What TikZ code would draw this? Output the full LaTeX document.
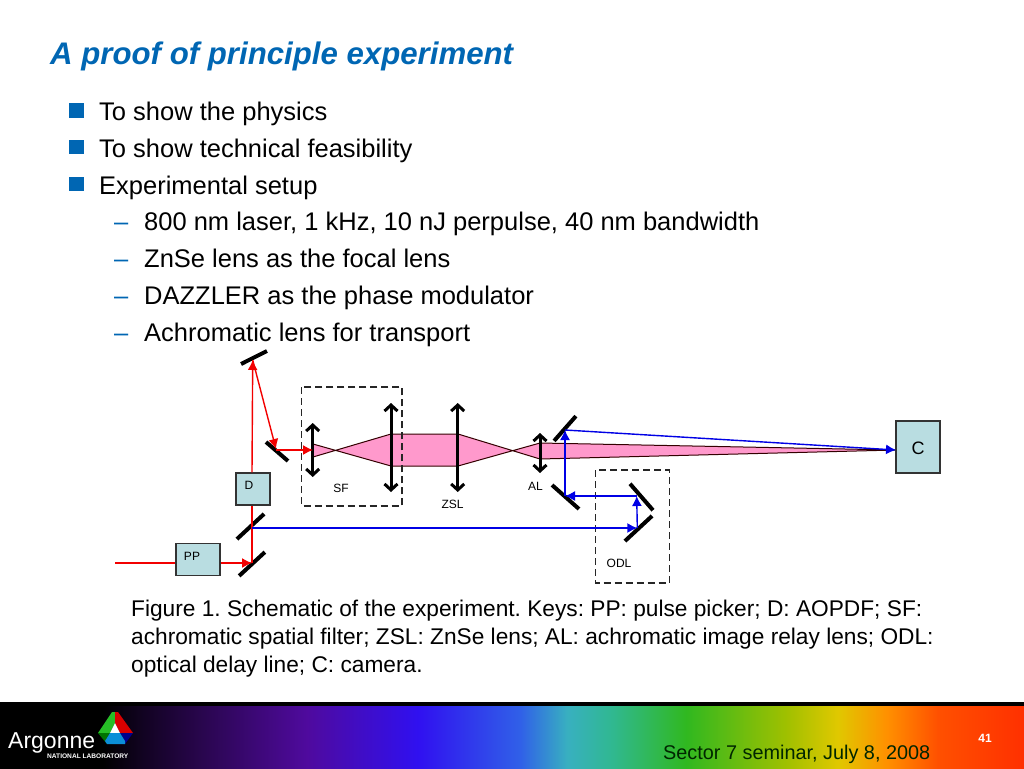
\documentclass[tikz,border=0pt]{standalone}
\usepackage{fontspec}
\setmainfont{Liberation Sans}
\usepackage{xcolor}
\usetikzlibrary{arrows.meta}

\definecolor{titleblue}{HTML}{0066B3}
\definecolor{boxteal}{HTML}{B9DDE1}
\definecolor{beampink}{HTML}{FF99CC}
\definecolor{barA}{HTML}{120322}
\definecolor{barB}{HTML}{2A0650}
\definecolor{barC}{HTML}{4F0A9E}
\definecolor{barD}{HTML}{3010F0}
\definecolor{barE}{HTML}{3060E8}
\definecolor{barF}{HTML}{38B0C0}
\definecolor{barG}{HTML}{30B890}
\definecolor{barH}{HTML}{30B820}
\definecolor{barI}{HTML}{A0C000}
\definecolor{barJ}{HTML}{E0C800}
\definecolor{barK}{HTML}{FF9000}
\definecolor{barL}{HTML}{FF5000}
\definecolor{barM}{HTML}{FF3000}

\pgfdeclarehorizontalshading{rainbowbar}{100bp}{
  color(0bp)=(black);
  color(30bp)=(black);
  color(32bp)=(barA);
  color(35bp)=(barB);
  color(40bp)=(barC);
  color(45.4bp)=(barD);
  color(50.4bp)=(barE);
  color(52.7bp)=(barF);
  color(54.9bp)=(barG);
  color(58.5bp)=(barH);
  color(63.4bp)=(barI);
  color(65.9bp)=(barJ);
  color(68.3bp)=(barK);
  color(70.8bp)=(barL);
  color(75bp)=(barM);
  color(100bp)=(barM)}

\begin{document}
\frenchspacing
\begin{tikzpicture}[x=1pt, y=-1pt]
    % Define styles
    \tikzset{
      mirror/.style={draw=none, fill=black, minimum width=#1, minimum height=4, inner sep=0},
      lensarrow/.style={line width=3, {Straight Barb[length=6,width=13]}-{Straight Barb[length=6,width=13]}},
      redline/.style={red!95!black, line width=1.4},
      redbeam/.style={redline, -{Latex[length=10,width=10]}},
      bluebeam/.style={blue!90!black, line width=1.4, -{Latex[length=10,width=10]}},
      devicebox/.style={draw=black!80, line width=1.4, fill=boxteal, inner sep=0},
      dashbox/.style={draw=black!85, dash pattern=on 7 off 4, line width=1.1},
      keytext/.style={font=\fontsize{12}{12}\selectfont, inner sep=0},
      bullettext/.style={font=\fontsize{25.5}{25.5}\selectfont, anchor=base west, inner sep=0},
      squaremark/.style={fill=titleblue, minimum size=14.5, inner sep=0},
      dashmark/.style={font=\fontsize{25.5}{25.5}\selectfont, text=titleblue, anchor=base west, inner sep=0},
      captiontext/.style={font=\fontsize{22.7}{22.7}\selectfont, anchor=base west, inner sep=0}
    }
    \useasboundingbox (0,0) rectangle (1024,768);

    % Title and bullets
    \node[anchor=base west, inner sep=0, text=titleblue, font=\fontsize{31.2}{31.2}\selectfont\bfseries\itshape] (title) at (50,64.5) {A proof of principle experiment};

    \node[squaremark] (sq1) at (76.3,110.3) {};
    \node[squaremark] (sq2) at (76.3,147) {};
    \node[squaremark] (sq3) at (76.3,184.2) {};
    \node[bullettext] (line1) at (99,120) {To show the physics};
    \node[bullettext] (line2) at (99,157) {To show technical feasibility};
    \node[bullettext] (line3) at (99,194) {Experimental setup};

    \node[dashmark] (dash1) at (114,230) {–};
    \node[dashmark] (dash2) at (114,267) {–};
    \node[dashmark] (dash3) at (114,304) {–};
    \node[dashmark] (dash4) at (114,341) {–};
    \node[bullettext] (line4) at (144,230.5) {800 nm laser, 1 kHz, 10 nJ perpulse, 40 nm bandwidth};
    \node[bullettext] (line5) at (144,267) {ZnSe lens as the focal lens};
    \node[bullettext] (line6) at (144,304) {DAZZLER as the phase modulator};
    \node[bullettext] (line7) at (144,341) {Achromatic lens for transport};

    % Pink beam through the lenses
    \draw[fill=beampink, draw=black!80!red, line width=1] (313,444) -- (391,466) -- (458,466) -- (540,443) -- (896,450) -- (540,459) -- (458,434) -- (391,434) -- (313,457) -- cycle;

    % Dashed boxes
    \draw[dashbox] (301.7,387) rectangle (402,506);
    \draw[dashbox] (595.7,470) rectangle (669.3,583);

    % Boxes
    \node[devicebox, minimum width=44, minimum height=32] (pp) at (198,559.5) {};
    \node[devicebox, minimum width=34, minimum height=32] (d) at (253,489) {};
    \node[devicebox, minimum width=44, minimum height=52] (c) at (918,447) {};

    % Mirrors
    \node[mirror=35, rotate=42.7] (mir1) at (252,564) {};
    \node[mirror=37, rotate=42.8] (mir2) at (250.5,526.5) {};
    \node[mirror=29, rotate=26.6] (mir3) at (254,357.5) {};
    \node[mirror=29, rotate=-40.8] (mir4) at (277,451.5) {};
    \node[mirror=37, rotate=42.8] (mir5) at (638.5,528.5) {};
    \node[mirror=35, rotate=-49] (mir6) at (641.5,497) {};
    \node[mirror=36, rotate=-41.6] (mir7) at (565.5,497) {};
    \node[mirror=33, rotate=48.6] (mir8) at (565,428.5) {};

    % Lenses
    \draw[lensarrow] (312.7,423) -- (312.7,477);
    \draw[lensarrow] (391,403) -- (391,492);
    \draw[lensarrow] (457.7,403) -- (457.7,492);
    \draw[lensarrow] (540,433) -- (540,473);

    % Red beam
    \coordinate (start) at (115,563);
    \coordinate (hitone) at (252,563);
    \coordinate (hitthree) at (252.7,360);
    \coordinate (hitfour) at (276,449);
    \coordinate (lensin) at (313,450);
    \draw[redline] (start) -- (pp.west |- start);
    \draw[redbeam] (pp.east |- start) -- (hitone);
    \draw[redline] (hitone) -- (hitone |- d.south);
    \draw[redbeam] (hitone |- d.north) -- (hitthree);
    \draw[redbeam] (hitthree) -- (hitfour);
    \draw[redbeam] (hitfour |- lensin) -- (lensin);

    % Blue beam
    \coordinate (split) at (252,528);
    \coordinate (hitfive) at (637.3,528);
    \coordinate (hitsix) at (636.7,496);
    \coordinate (hitseven) at (565,496);
    \coordinate (hiteight) at (565,430);
    \coordinate (camera) at (896,450);
    \draw[bluebeam] (split) -- (hitfive);
    \draw[bluebeam] (hitfive) -- (hitsix);
    \draw[bluebeam] (hitsix) -- (hitseven);
    \draw[bluebeam] (hitseven) -- (hiteight);
    \draw[bluebeam] (hiteight) -- (camera);

    % Labels
    \node[keytext] (pplabel) at (192,556) {PP};
    \node[keytext] (dlabel) at (249,485) {D};
    \node[keytext] (sflabel) at (341,488) {SF};
    \node[keytext] (zsllabel) at (452.5,504) {ZSL};
    \node[keytext] (allabel) at (535.5,486) {AL};
    \node[keytext] (odllabel) at (619,563) {ODL};
    \node[inner sep=0, font=\fontsize{18}{18}\selectfont] (clabel) at (918,448) {C};

    % Caption
    \node[captiontext] (cap1) at (131,616) {Figure 1. Schematic of the experiment. Keys: PP: pulse picker; D: AOPDF; SF:};
    \node[captiontext] (cap2) at (131,644) {achromatic spatial filter; ZSL: ZnSe lens; AL: achromatic image relay lens; ODL:};
    \node[captiontext] (cap3) at (131,672) {optical delay line; C: camera.};

    % Footer bar
    \fill[black] (0,702) rectangle (1024,706);
    \shade[shading=rainbowbar] (0,706) rectangle (1024,768);

    % Logo
    \fill[green!70!black!85!white] (112,712) -- (115,712) -- (115,723) -- (110,733) -- (98,733) -- cycle;
    \fill[red!85!black] (115,712) -- (118,712) -- (133,733) -- (120,733) -- (115,723) -- cycle;
    \fill[white] (115,723) -- (120,733) -- (110,733) -- cycle;
    \fill[green!45!black] (98,733) -- (110,733) -- (105,741) -- (107,744) -- cycle;
    \fill[blue!55!black] (133,733) -- (120,733) -- (125,741) -- (125,744) -- cycle;
    \fill[cyan!75!blue] (110,733) -- (120,733) -- (125,741) -- (125,744) -- (107,744) -- (105,741) -- cycle;
    \node[anchor=base west, inner sep=0, text=white, font=\fontsize{23}{23}\selectfont] (argonne) at (8,748) {Argonne};
    \node[anchor=base west, inner sep=0, text=white, font=\fontsize{6.6}{6.6}\selectfont\bfseries] (natlab) at (47,758) {NATIONAL LABORATORY};

    % Footer texts
    \node[anchor=base west, inner sep=0, text=black!85!green, font=\fontsize{19.85}{19.85}\selectfont] (seminar) at (663,759) {Sector 7 seminar, July 8, 2008};
    \node[inner sep=0, text=white, font=\fontsize{12}{12}\selectfont\bfseries] (pagenum) at (985,738) {41};
\end{tikzpicture}
\end{document}
